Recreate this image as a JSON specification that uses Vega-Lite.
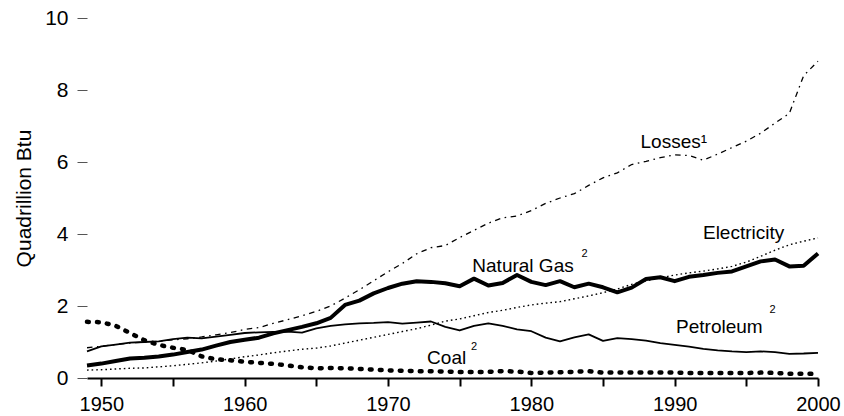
{
  "$schema": "https://vega.github.io/schema/vega-lite/v6.json",
  "width": 731,
  "height": 360,
  "autosize": {"type": "none"},
  "padding": {"left": 87, "top": 18, "right": 26, "bottom": 38},
  "background": "white",
  "config": {
    "font": "Liberation Sans",
    "view": {"stroke": null}
  },
  "datasets": {
    "energy": [
      {"year": 1949, "Coal": 1.56, "Natural Gas": 0.35, "Petroleum": 0.74, "Electricity": 0.22, "Losses": 0.84},
      {"year": 1950, "Coal": 1.55, "Natural Gas": 0.40, "Petroleum": 0.88, "Electricity": 0.23, "Losses": 0.88},
      {"year": 1951, "Coal": 1.45, "Natural Gas": 0.47, "Petroleum": 0.93, "Electricity": 0.25, "Losses": 0.93},
      {"year": 1952, "Coal": 1.25, "Natural Gas": 0.54, "Petroleum": 0.98, "Electricity": 0.27, "Losses": 0.97},
      {"year": 1953, "Coal": 1.05, "Natural Gas": 0.56, "Petroleum": 1.00, "Electricity": 0.28, "Losses": 1.00},
      {"year": 1954, "Coal": 0.92, "Natural Gas": 0.60, "Petroleum": 1.02, "Electricity": 0.31, "Losses": 1.02},
      {"year": 1955, "Coal": 0.84, "Natural Gas": 0.65, "Petroleum": 1.08, "Electricity": 0.34, "Losses": 1.06},
      {"year": 1956, "Coal": 0.78, "Natural Gas": 0.72, "Petroleum": 1.12, "Electricity": 0.38, "Losses": 1.09},
      {"year": 1957, "Coal": 0.60, "Natural Gas": 0.79, "Petroleum": 1.10, "Electricity": 0.42, "Losses": 1.14},
      {"year": 1958, "Coal": 0.52, "Natural Gas": 0.90, "Petroleum": 1.15, "Electricity": 0.47, "Losses": 1.20},
      {"year": 1959, "Coal": 0.49, "Natural Gas": 1.00, "Petroleum": 1.20, "Electricity": 0.53, "Losses": 1.26},
      {"year": 1960, "Coal": 0.45, "Natural Gas": 1.06, "Petroleum": 1.25, "Electricity": 0.59, "Losses": 1.35},
      {"year": 1961, "Coal": 0.42, "Natural Gas": 1.12, "Petroleum": 1.27, "Electricity": 0.64, "Losses": 1.40},
      {"year": 1962, "Coal": 0.39, "Natural Gas": 1.24, "Petroleum": 1.28, "Electricity": 0.70, "Losses": 1.52},
      {"year": 1963, "Coal": 0.35, "Natural Gas": 1.33, "Petroleum": 1.29, "Electricity": 0.75, "Losses": 1.62},
      {"year": 1964, "Coal": 0.30, "Natural Gas": 1.42, "Petroleum": 1.26, "Electricity": 0.80, "Losses": 1.73},
      {"year": 1965, "Coal": 0.27, "Natural Gas": 1.52, "Petroleum": 1.38, "Electricity": 0.83, "Losses": 1.85},
      {"year": 1966, "Coal": 0.28, "Natural Gas": 1.67, "Petroleum": 1.45, "Electricity": 0.89, "Losses": 2.00},
      {"year": 1967, "Coal": 0.27, "Natural Gas": 2.03, "Petroleum": 1.49, "Electricity": 0.97, "Losses": 2.22},
      {"year": 1968, "Coal": 0.25, "Natural Gas": 2.15, "Petroleum": 1.52, "Electricity": 1.05, "Losses": 2.45},
      {"year": 1969, "Coal": 0.23, "Natural Gas": 2.35, "Petroleum": 1.53, "Electricity": 1.13, "Losses": 2.70},
      {"year": 1970, "Coal": 0.21, "Natural Gas": 2.50, "Petroleum": 1.55, "Electricity": 1.21, "Losses": 2.95},
      {"year": 1971, "Coal": 0.20, "Natural Gas": 2.62, "Petroleum": 1.51, "Electricity": 1.29, "Losses": 3.18},
      {"year": 1972, "Coal": 0.19, "Natural Gas": 2.69, "Petroleum": 1.54, "Electricity": 1.37, "Losses": 3.45},
      {"year": 1973, "Coal": 0.19, "Natural Gas": 2.67, "Petroleum": 1.57, "Electricity": 1.47, "Losses": 3.62},
      {"year": 1974, "Coal": 0.18, "Natural Gas": 2.63, "Petroleum": 1.42, "Electricity": 1.58, "Losses": 3.68},
      {"year": 1975, "Coal": 0.17, "Natural Gas": 2.55, "Petroleum": 1.32, "Electricity": 1.64, "Losses": 3.90},
      {"year": 1976, "Coal": 0.17, "Natural Gas": 2.76, "Petroleum": 1.45, "Electricity": 1.73, "Losses": 4.10},
      {"year": 1977, "Coal": 0.17, "Natural Gas": 2.57, "Petroleum": 1.52, "Electricity": 1.82, "Losses": 4.30},
      {"year": 1978, "Coal": 0.19, "Natural Gas": 2.64, "Petroleum": 1.45, "Electricity": 1.88, "Losses": 4.45},
      {"year": 1979, "Coal": 0.18, "Natural Gas": 2.86, "Petroleum": 1.35, "Electricity": 1.96, "Losses": 4.50},
      {"year": 1980, "Coal": 0.14, "Natural Gas": 2.67, "Petroleum": 1.30, "Electricity": 2.03, "Losses": 4.65},
      {"year": 1981, "Coal": 0.15, "Natural Gas": 2.58, "Petroleum": 1.12, "Electricity": 2.08, "Losses": 4.85},
      {"year": 1982, "Coal": 0.16, "Natural Gas": 2.69, "Petroleum": 1.02, "Electricity": 2.12, "Losses": 5.00},
      {"year": 1983, "Coal": 0.17, "Natural Gas": 2.52, "Petroleum": 1.13, "Electricity": 2.20, "Losses": 5.12},
      {"year": 1984, "Coal": 0.19, "Natural Gas": 2.62, "Petroleum": 1.21, "Electricity": 2.28, "Losses": 5.35},
      {"year": 1985, "Coal": 0.15, "Natural Gas": 2.52, "Petroleum": 1.03, "Electricity": 2.37, "Losses": 5.56},
      {"year": 1986, "Coal": 0.15, "Natural Gas": 2.38, "Petroleum": 1.11, "Electricity": 2.47, "Losses": 5.70},
      {"year": 1987, "Coal": 0.15, "Natural Gas": 2.51, "Petroleum": 1.08, "Electricity": 2.60, "Losses": 5.93},
      {"year": 1988, "Coal": 0.15, "Natural Gas": 2.75, "Petroleum": 1.04, "Electricity": 2.70, "Losses": 6.02},
      {"year": 1989, "Coal": 0.15, "Natural Gas": 2.80, "Petroleum": 0.97, "Electricity": 2.78, "Losses": 6.12},
      {"year": 1990, "Coal": 0.15, "Natural Gas": 2.69, "Petroleum": 0.92, "Electricity": 2.86, "Losses": 6.20},
      {"year": 1991, "Coal": 0.14, "Natural Gas": 2.81, "Petroleum": 0.87, "Electricity": 2.92, "Losses": 6.18},
      {"year": 1992, "Coal": 0.14, "Natural Gas": 2.86, "Petroleum": 0.81, "Electricity": 2.97, "Losses": 6.05},
      {"year": 1993, "Coal": 0.14, "Natural Gas": 2.92, "Petroleum": 0.77, "Electricity": 3.03, "Losses": 6.22},
      {"year": 1994, "Coal": 0.14, "Natural Gas": 2.96, "Petroleum": 0.74, "Electricity": 3.10, "Losses": 6.40},
      {"year": 1995, "Coal": 0.14, "Natural Gas": 3.10, "Petroleum": 0.72, "Electricity": 3.22, "Losses": 6.58},
      {"year": 1996, "Coal": 0.15, "Natural Gas": 3.24, "Petroleum": 0.74, "Electricity": 3.38, "Losses": 6.80},
      {"year": 1997, "Coal": 0.14, "Natural Gas": 3.29, "Petroleum": 0.72, "Electricity": 3.55, "Losses": 7.08},
      {"year": 1998, "Coal": 0.12, "Natural Gas": 3.10, "Petroleum": 0.67, "Electricity": 3.70, "Losses": 7.35},
      {"year": 1999, "Coal": 0.12, "Natural Gas": 3.12, "Petroleum": 0.68, "Electricity": 3.80, "Losses": 8.40},
      {"year": 2000, "Coal": 0.11, "Natural Gas": 3.46, "Petroleum": 0.70, "Electricity": 3.89, "Losses": 8.80}
    ],
    "labels": [
      {"label": "Losses¹", "year": 1989.94, "value": 6.39},
      {"label": "Electricity", "year": 1994.81, "value": 3.85},
      {"label": "Natural Gas", "year": 1979.42, "value": 2.94},
      {"label": "Petroleum", "year": 1993.12, "value": 1.26},
      {"label": "Coal", "year": 1974.09, "value": 0.40}
    ],
    "sups": [
      {"label": "2", "year": 1983.72, "value": 3.35},
      {"label": "2", "year": 1996.83, "value": 1.81},
      {"label": "2", "year": 1976.01, "value": 0.79}
    ]
  },
  "encoding": {
    "x": {
      "field": "year",
      "type": "quantitative",
      "scale": {"domain": [1949, 2000], "nice": false, "zero": false},
      "axis": {
        "title": null,
        "values": [1950, 1955, 1960, 1965, 1970, 1975, 1980, 1985, 1990, 1995, 2000],
        "labelExpr": "datum.value % 10 == 0 ? datum.label : ''",
        "format": "d",
        "grid": false,
        "domain": true,
        "domainColor": "black",
        "domainWidth": 2,
        "ticks": true,
        "tickColor": "black",
        "tickWidth": 2,
        "tickSize": 8,
        "labelFontSize": 20,
        "labelColor": "black",
        "labelPadding": 8,
        "labelFlush": false,
        "labelOverlap": false
      }
    },
    "y": {
      "field": "value",
      "type": "quantitative",
      "scale": {"domain": [0, 10], "nice": false},
      "axis": {
        "title": "Quadrillion Btu",
        "titleFontSize": 21,
        "titleFontWeight": "normal",
        "titleColor": "black",
        "titlePadding": 10,
        "values": [0, 2, 4, 6, 8, 10],
        "grid": false,
        "domain": false,
        "tickSize": 10,
        "tickColor": "#555555",
        "tickWidth": 1,
        "labelFontSize": 21,
        "labelColor": "black",
        "labelPadding": 9
      }
    }
  },
  "layer": [
    {
      "data": {"name": "energy"},
      "transform": [
        {"fold": ["Coal", "Natural Gas", "Petroleum", "Electricity", "Losses"], "as": ["series", "value"]},
        {"filter": "datum.series === 'Electricity'"}
      ],
      "mark": {"type": "line", "color": "black", "strokeWidth": 1.4, "strokeDash": [1.6, 3]},
      "encoding": {}
    },
    {
      "data": {"name": "energy"},
      "transform": [
        {"fold": ["Coal", "Natural Gas", "Petroleum", "Electricity", "Losses"], "as": ["series", "value"]},
        {"filter": "datum.series === 'Losses'"}
      ],
      "mark": {"type": "line", "color": "black", "strokeWidth": 1.3, "strokeDash": [5.5, 4.5, 1.6, 4.5]},
      "encoding": {}
    },
    {
      "data": {"name": "energy"},
      "transform": [
        {"fold": ["Coal", "Natural Gas", "Petroleum", "Electricity", "Losses"], "as": ["series", "value"]},
        {"filter": "datum.series === 'Petroleum'"}
      ],
      "mark": {"type": "line", "color": "black", "strokeWidth": 1.8, "strokeJoin": "round"},
      "encoding": {}
    },
    {
      "data": {"name": "energy"},
      "transform": [
        {"fold": ["Coal", "Natural Gas", "Petroleum", "Electricity", "Losses"], "as": ["series", "value"]},
        {"filter": "datum.series === 'Coal'"}
      ],
      "mark": {"type": "line", "color": "black", "strokeWidth": 4.5, "strokeCap": "round", "strokeDash": [1.8, 8.2]},
      "encoding": {}
    },
    {
      "data": {"name": "energy"},
      "transform": [
        {"fold": ["Coal", "Natural Gas", "Petroleum", "Electricity", "Losses"], "as": ["series", "value"]},
        {"filter": "datum.series === 'Natural Gas'"}
      ],
      "mark": {"type": "line", "color": "black", "strokeWidth": 4, "strokeJoin": "round"},
      "encoding": {}
    },
    {
      "data": {"name": "labels"},
      "mark": {"type": "text", "fontSize": 19, "align": "center", "baseline": "alphabetic", "color": "black"},
      "encoding": {"text": {"field": "label"}}
    },
    {
      "data": {"name": "sups"},
      "mark": {"type": "text", "fontSize": 11, "align": "center", "baseline": "alphabetic", "color": "black"},
      "encoding": {"text": {"field": "label"}}
    }
  ]
}
